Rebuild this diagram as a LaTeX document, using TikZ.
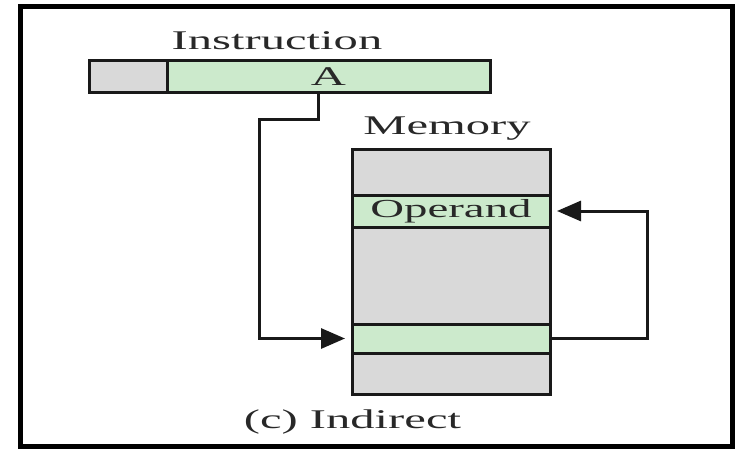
\documentclass[tikz,border=0pt]{standalone}
\usepackage{fontspec}
\setmainfont{Liberation Serif}[FakeStretch=1.8]
\usetikzlibrary{arrows.meta}
\definecolor{cellgray}{RGB}{217,217,217}
\definecolor{cellgreen}{RGB}{204,234,204}
\definecolor{inkline}{RGB}{25,25,25}
\definecolor{inktext}{RGB}{40,40,40}
\tikzset{
  cell/.style={draw=inkline, line width=3pt, inner sep=0pt, outer sep=0pt, text=inktext},
  graycell/.style={cell, fill=cellgray},
  greencell/.style={cell, fill=cellgreen},
  lbl/.style={inner sep=0pt, anchor=base, text=inktext, font=\fontsize{27}{30}\selectfont},
  conn/.style={draw=inkline, line width=3pt, -{Triangle[length=24pt,width=20pt]}, shorten >=7pt},
}
\begin{document}
\begin{tikzpicture}[x=1pt,y=-1pt]
\useasboundingbox (0,0) rectangle (743,449);
\draw[line width=5pt, draw=black] (20,7) rectangle (732,446);
% instruction
\node[graycell, minimum width=78pt, minimum height=32pt] (opc) at (128,77) {};
\node[greencell, minimum width=323pt, minimum height=32pt, font=\fontsize{27}{30}\selectfont] (addr) at (328.5,77) {A};
% memory
\node[graycell, minimum width=198pt, minimum height=45pt] (mtop) at (451,172.5) {};
\node[greencell, minimum width=198pt, minimum height=32pt, font=\fontsize{26}{28}\selectfont] (operand) at (451,211) {Operand};
\node[graycell, minimum width=198pt, minimum height=97pt] (mmid) at (451,275.5) {};
\node[greencell, minimum width=198pt, minimum height=29pt] (ptr) at (451,338.5) {};
\node[graycell, minimum width=198pt, minimum height=41pt] (mbot) at (451,373.5) {};
% labels
\node[lbl] (instrlbl) at (277,50) {Instruction};
\node[lbl] (memlbl) at (447,135) {Memory};
\node[lbl] (caption) at (352.5,428) {(c) Indirect};
% connectors
\coordinate (bendA) at (259,120);
\coordinate (loopR) at (647,211);
\draw[conn] ([xshift=-10.5pt]addr.south) |- (bendA) |- (ptr.west);
\draw[conn] (ptr.east) -| (loopR) -- (operand.east);
\end{tikzpicture}
\end{document}
